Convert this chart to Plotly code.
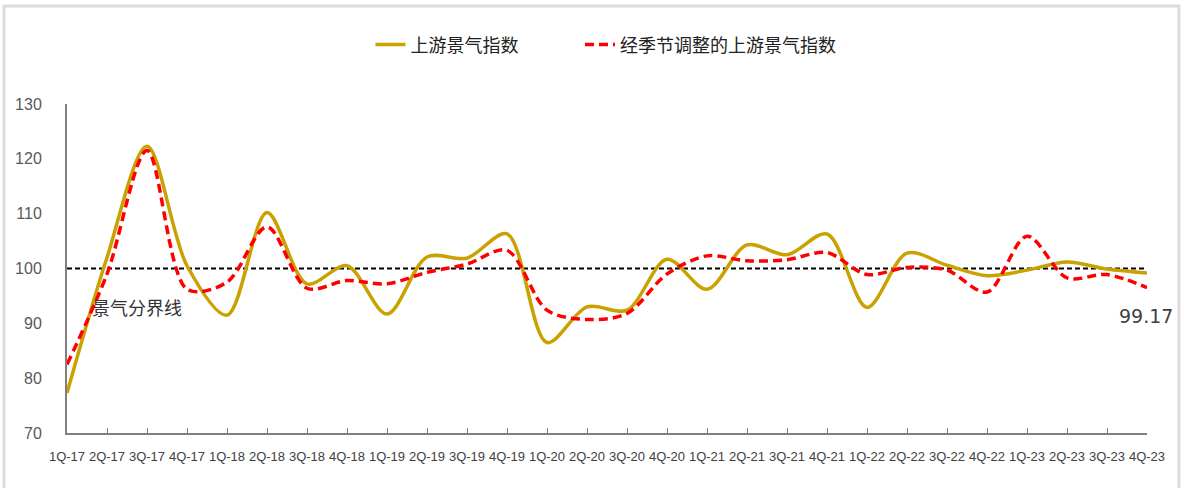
import plotly.graph_objects as go

quarters = ["1Q-17", "2Q-17", "3Q-17", "4Q-17", "1Q-18", "2Q-18", "3Q-18", "4Q-18",
            "1Q-19", "2Q-19", "3Q-19", "4Q-19", "1Q-20", "2Q-20", "3Q-20", "4Q-20",
            "1Q-21", "2Q-21", "3Q-21", "4Q-21", "1Q-22", "2Q-22", "3Q-22", "4Q-22",
            "1Q-23", "2Q-23", "3Q-23", "4Q-23"]

upstream = [77.3, 102.0, 122.3, 100.5, 91.5, 110.2, 97.2, 100.5,
            91.7, 102.1, 101.9, 106.3, 86.5, 93.0, 92.4, 101.7,
            96.2, 104.3, 102.5, 106.3, 92.9, 102.8, 100.6, 98.7,
            99.7, 101.2, 99.9, 99.17]

upstream_sa = [82.5, 99.0, 121.5, 96.2, 97.5, 107.6, 96.4, 97.8,
               97.2, 99.3, 100.8, 103.3, 92.4, 90.7, 91.8, 99.0,
               102.3, 101.4, 101.6, 102.9, 98.9, 100.2, 99.7, 95.7,
               105.9, 98.3, 98.9, 96.5]

threshold = 100
threshold_label = "景气分界线"
last_label = "99.17"
y_ticks = [70, 80, 90, 100, 110, 120, 130]

idx = list(range(len(quarters)))

fig = go.Figure()
fig.add_trace(go.Scatter(
    x=idx, y=upstream, mode="lines", name="上游景气指数", legend="legend",
    showlegend=True,
    line=dict(color="#C9A100", width=3.5, shape="spline", smoothing=0.9),
))
fig.add_trace(go.Scatter(
    x=idx, y=upstream_sa, mode="lines", name="经季节调整的上游景气指数", legend="legend2",
    showlegend=True,
    line=dict(color="#FF0000", width=3.5, dash="9px,5px", shape="spline", smoothing=0.9),
))

fig.add_shape(type="line", xref="x", yref="y", x0=idx[0], x1=idx[-1],
              y0=threshold, y1=threshold,
              line=dict(color="#000000", width=2, dash="5px,3px"), layer="below")

# outer frame
fig.add_shape(type="rect", xref="paper", yref="paper",
              x0=-0.0583, x1=1.0296, y0=-0.2, y1=1.2979,
              line=dict(color="#DCDCDC", width=3), fillcolor="rgba(0,0,0,0)")

fig.add_annotation(x=1.75, y=93.0, xref="x", yref="y", text=threshold_label,
                   showarrow=False, font=dict(size=18, color="#333333",
                                              family="Noto Sans CJK SC"))
fig.add_annotation(x=26.98, y=91.3, xref="x", yref="y", text=last_label,
                   showarrow=False, font=dict(size=19, color="#404040",
                                              family="DejaVu Sans"))

legend_font = dict(size=18, color="#222222", family="Noto Sans CJK SC")

fig.update_layout(
    width=1184, height=488,
    margin=dict(l=67, r=37, t=104, b=55),
    paper_bgcolor="white", plot_bgcolor="white",
    showlegend=True,
    font=dict(family="Noto Sans CJK SC", color="#333333"),
    legend=dict(orientation="h", x=0.281, xanchor="left", y=1.18, yanchor="middle",
                font=legend_font),
    legend2=dict(orientation="h", x=0.475, xanchor="left", y=1.18, yanchor="middle",
                 font=legend_font),
    xaxis=dict(range=[0, 27], tickmode="array", tickvals=idx, ticktext=quarters,
               tickangle=0, showgrid=False, zeroline=False,
               showline=True, linecolor="#808080", linewidth=2,
               ticks="inside", ticklen=5, tickcolor="#808080",
               tickfont=dict(size=13, color="#404040", family="Liberation Sans"),
               ticklabelstandoff=10),
    yaxis=dict(range=[70, 130], tickmode="array", tickvals=y_ticks,
               showgrid=False, zeroline=False,
               showline=True, linecolor="#808080", linewidth=2,
               ticks="", tickfont=dict(size=16, color="#595959", family="Liberation Sans"),
               ticklabelstandoff=20),
)

fig.write_html("out.html")
